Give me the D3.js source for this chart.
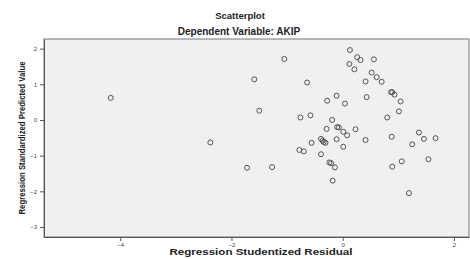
<!DOCTYPE html>
<html>
<head>
<meta charset="utf-8">
<style>
  body { margin: 0; background: #fff; }
  text { font-family: "Liberation Sans", Arial, sans-serif; }
</style>
</head>
<body>
<div id="viz_area"></div>
<script src="https://d3js.org/d3.v7.min.js"></script>
<script>
// residuals (x) and predicted values (y)
var residual = [-4.17, -1.05, -1.59, -0.64, -1.50, -0.76, -2.38, -0.78, -0.70, -1.72, -1.27,
  0.13, 0.26, 0.32, 0.56, 0.12, 0.21, 0.52, 0.61, 0.70, 0.41, 0.87, 0.89, 0.93,
  -0.11, 0.43, -0.28, 0.04, 1.04, 1.01, 0.80, -0.58, -0.19, -0.29, -0.10, -0.07,
  0.01, 0.08, 0.23, -0.11, 0.41, -0.39, -0.36, -0.34, -0.31, -0.56, 0.01, -0.39,
  -0.24, -0.21, -0.14, -0.18, 0.88, 1.37, 1.46, 1.67, 1.25, 1.54, 1.06, 0.89, 1.19];
var predicted = [0.62, 1.71, 1.14, 1.05, 0.26, 0.07, -0.63, -0.84, -0.88, -1.34, -1.32,
  1.96, 1.76, 1.68, 1.70, 1.57, 1.42, 1.33, 1.20, 1.07, 1.08, 0.78, 0.78, 0.71,
  0.68, 0.64, 0.54, 0.46, 0.52, 0.24, 0.07, 0.13, 0.00, -0.25, -0.20, -0.21,
  -0.33, -0.43, -0.26, -0.54, -0.56, -0.53, -0.58, -0.62, -0.64, -0.64, -0.75, -0.96,
  -1.19, -1.21, -1.33, -1.70, -0.47, -0.35, -0.53, -0.51, -0.68, -1.10, -1.16, -1.31, -2.05];
var xTicks = [-4, -2, 0, 2];
var yTicks = [-3, -2, -1, 0, 1, 2];

var W = 470, H = 259;
var margin = {top: 39, right: 1, bottom: 22, left: 44};
var width = W - margin.left - margin.right,
    height = H - margin.top - margin.bottom;

var svg = d3.select("#viz_area").append("svg")
    .attr("width", W).attr("height", H);

var g = svg.append("g")
    .attr("transform", "translate(" + margin.left + "," + margin.top + ")");

var x = d3.scaleLinear().domain([-5.37, 2.27]).range([0, width]);
var y = d3.scaleLinear().domain([-3.28, 2.27]).range([height, 0]);

// plot background
g.append("rect")
    .attr("width", width).attr("height", height)
    .attr("fill", "#f0f0f0").attr("stroke", "#777").attr("stroke-width", 1);

// axes
var xAxis = g.append("g")
    .attr("transform", "translate(0," + height + ")")
    .call(d3.axisBottom(x).tickValues(xTicks).tickFormat(d3.format("d")).tickSize(4).tickSizeOuter(0));
var yAxis = g.append("g")
    .call(d3.axisLeft(y).tickValues(yTicks).tickFormat(d3.format("d")).tickSize(4).tickSizeOuter(0));

[xAxis, yAxis].forEach(function(a) {
  a.select(".domain").attr("stroke", "#555");
  a.selectAll(".tick line").attr("stroke", "#555");
  a.selectAll(".tick text").attr("fill", "#444").style("font-size", "6px");
});
xAxis.selectAll(".tick text").attr("dy", "0.5em");

// points
g.selectAll("circle.pt")
  .data(residual)
  .enter().append("circle")
    .attr("class", "pt")
    .attr("cx", function(d) { return x(d); })
    .attr("cy", function(d, i) { return y(predicted[i]); })
    .attr("r", 2.5)
    .attr("fill", "none")
    .attr("stroke", "#444")
    .attr("stroke-width", 0.9);

// titles
svg.append("text")
    .attr("x", 240).attr("y", 19)
    .attr("text-anchor", "middle")
    .style("font-size", "9.5px").style("font-weight", "bold").attr("fill", "#222")
    .text("Scatterplot");
svg.append("text")
    .attr("x", 239).attr("y", 35)
    .attr("text-anchor", "middle")
    .style("font-size", "10px").style("font-weight", "bold").attr("fill", "#222")
    .text("Dependent Variable: AKIP");

// axis labels
svg.append("text")
    .attr("x", 261).attr("y", 255)
    .attr("text-anchor", "middle")
    .attr("textLength", 183).attr("lengthAdjust", "spacingAndGlyphs")
    .style("font-size", "9px").style("font-weight", "bold").attr("fill", "#222")
    .text("Regression Studentized Residual");
svg.append("text")
    .attr("transform", "translate(25,138) rotate(-90)")
    .attr("text-anchor", "middle")
    .attr("textLength", 153).attr("lengthAdjust", "spacingAndGlyphs")
    .style("font-size", "9.5px").style("font-weight", "bold").attr("fill", "#222")
    .text("Regression Standardized Predicted Value");
</script>
</body>
</html>
